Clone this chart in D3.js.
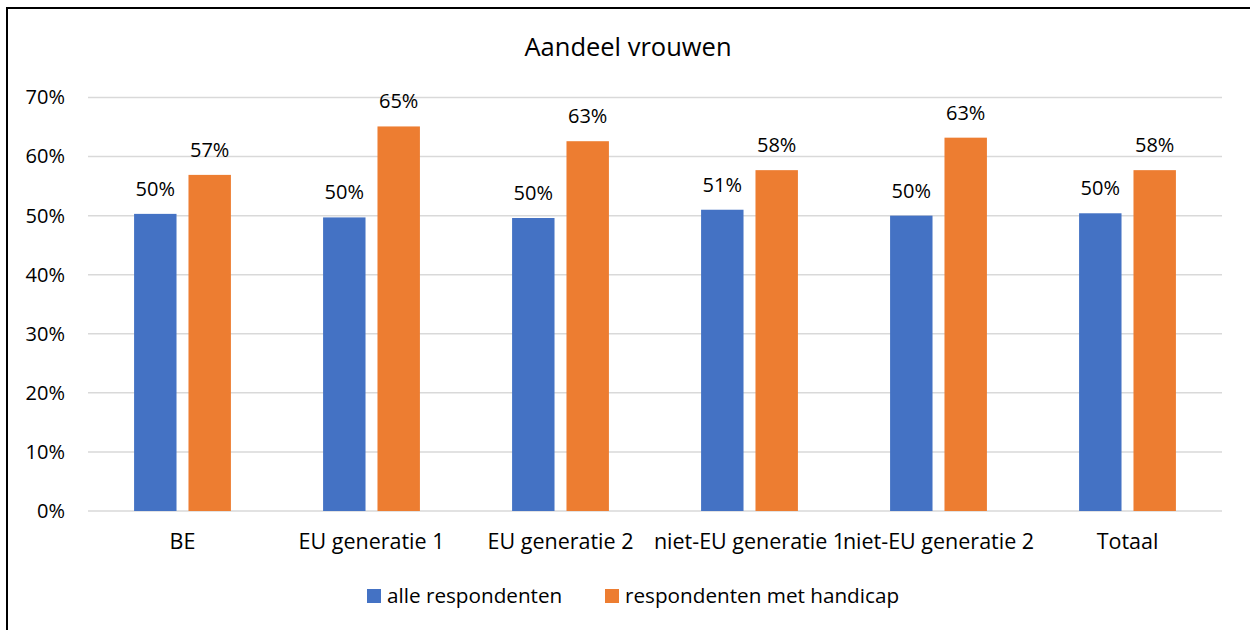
<!DOCTYPE html>
<html>
<head>
<meta charset="utf-8">
<script src="https://cdn.jsdelivr.net/npm/d3@7"></script>
<style>
  body { margin: 0; background: #fff; }
  svg text { font-family: "Open Sans", sans-serif; fill: #000; }
</style>
</head>
<body>
<script>
var categories = ["BE", "EU generatie 1", "EU generatie 2", "niet-EU generatie 1", "niet-EU generatie 2", "Totaal"];
var seriesNames = ["alle respondenten", "respondenten met handicap"];
var alleRespondenten = [0.503, 0.497, 0.496, 0.510, 0.500, 0.504];
var metHandicap = [0.569, 0.651, 0.626, 0.577, 0.632, 0.577];
var yTicks = [0, 0.1, 0.2, 0.3, 0.4, 0.5, 0.6, 0.7];
var colors = ["#4472C4", "#ED7D31"];

var W = 1250, H = 630;
var margin = {top: 97.5, right: 28, bottom: 119, left: 88};

var svg = d3.select("body").append("svg")
    .attr("width", W)
    .attr("height", H);

// outer frame (runs off the right and bottom of the picture)
svg.append("rect")
    .attr("x", 7).attr("y", 8)
    .attr("width", W + 20).attr("height", H + 20)
    .attr("fill", "#fff")
    .attr("stroke", "#000")
    .attr("stroke-width", 2);

svg.append("text")
    .attr("x", 628)
    .attr("y", 56)
    .attr("text-anchor", "middle")
    .attr("font-size", "25.5px")
    .text("Aandeel vrouwen");

var x0 = d3.scaleBand()
    .domain(categories)
    .range([margin.left, W - margin.right]);

var x1 = d3.scaleBand()
    .domain(seriesNames)
    .range([0, x0.bandwidth()])
    .paddingInner(0.22)
    .paddingOuter(0.847);

var y = d3.scaleLinear()
    .domain([0, 0.7])
    .range([H - margin.bottom, margin.top]);

// gridlines
svg.append("g")
    .selectAll("line")
    .data(yTicks)
    .enter().append("line")
    .attr("x1", margin.left)
    .attr("x2", W - margin.right)
    .attr("y1", function(d) { return y(d); })
    .attr("y2", function(d) { return y(d); })
    .attr("stroke", "#d9d9d9")
    .attr("stroke-width", 1.5);

// y axis labels
var yAxis = svg.append("g")
    .attr("transform", "translate(" + margin.left + ",0)")
    .call(d3.axisLeft(y).tickValues(yTicks).tickFormat(d3.format(".0%")).tickSize(0).tickPadding(23));
yAxis.select(".domain").remove();
yAxis.selectAll("text")
    .attr("font-size", "20px")
    .attr("font-family", "Open Sans, sans-serif")
    .attr("fill", "#000");

// x axis labels
var xAxis = svg.append("g")
    .attr("transform", "translate(0," + y(0) + ")")
    .call(d3.axisBottom(x0).tickSize(0).tickPadding(23));
xAxis.select(".domain").remove();
xAxis.selectAll("text")
    .attr("font-size", "21.5px")
    .attr("font-family", "Open Sans, sans-serif")
    .attr("fill", "#000");

var rows = categories.map(function(c, i) {
    return {cat: c, vals: [alleRespondenten[i], metHandicap[i]]};
});

var groups = svg.selectAll(".grp")
    .data(rows)
    .enter().append("g")
    .attr("class", "grp")
    .attr("transform", function(d) { return "translate(" + x0(d.cat) + ",0)"; });

groups.selectAll("rect")
    .data(function(d) { return d.vals.map(function(v, j) { return {s: seriesNames[j], v: v, j: j}; }); })
    .enter().append("rect")
    .attr("x", function(d) { return x1(d.s); })
    .attr("y", function(d) { return y(d.v); })
    .attr("width", x1.bandwidth())
    .attr("height", function(d) { return y(0) - y(d.v); })
    .attr("fill", function(d) { return colors[d.j]; });

groups.selectAll(".lbl")
    .data(function(d) { return d.vals.map(function(v, j) { return {s: seriesNames[j], v: v}; }); })
    .enter().append("text")
    .attr("class", "lbl")
    .attr("x", function(d) { return x1(d.s) + x1.bandwidth() / 2; })
    .attr("y", function(d) { return y(d.v) - 18; })
    .attr("text-anchor", "middle")
    .attr("font-size", "20px")
    .text(function(d) { return d3.format(".0%")(d.v); });

// legend
var legendX = [367, 605];
var legend = svg.selectAll(".legend")
    .data(seriesNames)
    .enter().append("g")
    .attr("class", "legend")
    .attr("transform", function(d, i) { return "translate(" + legendX[i] + ",589)"; });

legend.append("rect")
    .attr("width", 14)
    .attr("height", 14)
    .attr("fill", function(d, i) { return colors[i]; });

legend.append("text")
    .attr("x", 20)
    .attr("y", 13.5)
    .attr("font-size", "20.7px")
    .text(function(d) { return d; });
</script>
</body>
</html>
